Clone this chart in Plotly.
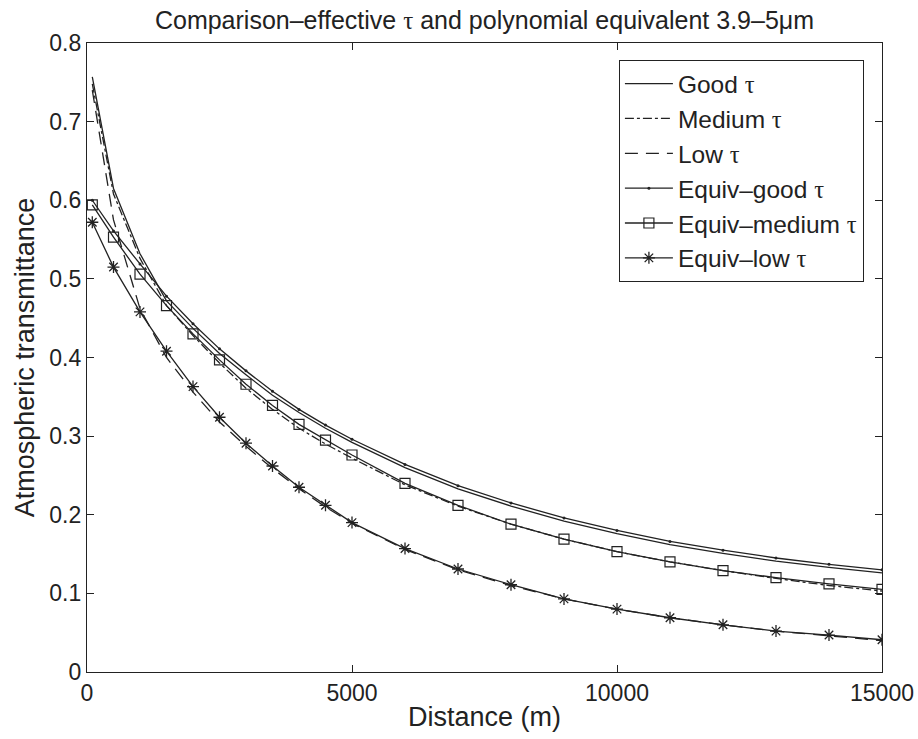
import plotly.graph_objects as go

distance = [100, 500, 1000, 1500, 2000, 2500, 3000, 3500, 4000, 4500, 5000,
            6000, 7000, 8000, 9000, 10000, 11000, 12000, 13000, 14000, 15000]

good_tau = [0.757, 0.615, 0.532, 0.472, 0.437, 0.405, 0.378, 0.352, 0.330, 0.310, 0.292,
            0.260, 0.233, 0.211, 0.192, 0.176, 0.162, 0.151, 0.141, 0.133, 0.126]
medium_tau = [0.748, 0.608, 0.526, 0.466, 0.428, 0.393, 0.361, 0.334, 0.310, 0.290, 0.272,
              0.238, 0.211, 0.188, 0.169, 0.153, 0.140, 0.129, 0.119, 0.110, 0.103]
low_tau = [0.740, 0.575, 0.462, 0.400, 0.356, 0.318, 0.287, 0.259, 0.233, 0.210, 0.189,
           0.156, 0.130, 0.110, 0.093, 0.080, 0.069, 0.060, 0.052, 0.046, 0.040]
equiv_good = [0.600, 0.561, 0.519, 0.478, 0.443, 0.411, 0.383, 0.357, 0.334, 0.314, 0.296,
              0.264, 0.237, 0.215, 0.196, 0.180, 0.166, 0.155, 0.145, 0.137, 0.130]
equiv_medium = [0.594, 0.553, 0.506, 0.466, 0.430, 0.397, 0.366, 0.339, 0.315, 0.295, 0.276,
                0.240, 0.212, 0.188, 0.169, 0.153, 0.140, 0.129, 0.120, 0.112, 0.105]
equiv_low = [0.572, 0.515, 0.458, 0.408, 0.363, 0.324, 0.291, 0.262, 0.235, 0.212, 0.190,
             0.157, 0.131, 0.111, 0.093, 0.080, 0.069, 0.060, 0.052, 0.047, 0.041]

x_ticks = [0, 5000, 10000, 15000]
y_ticks = [0, 0.1, 0.2, 0.3, 0.4, 0.5, 0.6, 0.7, 0.8]
y_tick_labels = ["0", "0.1", "0.2", "0.3", "0.4", "0.5", "0.6", "0.7", "0.8"]

TAU = "<span style=\"font-family:'Liberation Serif', serif\">τ</span>"
INK = "#222222"
FAM = "Liberation Sans, Arial, sans-serif"

series = [
    ("Good " + TAU, good_tau, dict(dash="solid"), None),
    ("Medium " + TAU, medium_tau, dict(dash="dashdot"), None),
    ("Low " + TAU, low_tau, dict(dash="13px,8px"), None),
    ("Equiv–good " + TAU, equiv_good, dict(dash="solid"),
     dict(symbol="circle", size=3, color=INK)),
    ("Equiv–medium " + TAU, equiv_medium, dict(dash="solid"),
     dict(symbol="square-open", size=10, color=INK, line=dict(width=1.2, color=INK))),
    ("Equiv–low " + TAU, equiv_low, dict(dash="solid"),
     dict(symbol="asterisk-open", size=10, color=INK, line=dict(width=1.3, color=INK))),
]

fig = go.Figure()
for i, (name, ys, ls, mk) in enumerate(series):
    fig.add_trace(go.Scatter(
        x=distance, y=ys, name=name,
        mode="lines+markers" if mk else "lines",
        line=dict(color=INK, width=1.3, **ls),
        marker=mk if mk else None,
        legendgroup="g%d" % i,
    ))

def f(size):
    return dict(family=FAM, size=size, color=INK)

fig.update_layout(
    width=918, height=739,
    margin=dict(l=87, r=36, t=43, b=67, autoexpand=False),
    paper_bgcolor="white", plot_bgcolor="white",
    font=f(22),
    title=dict(text="Comparison–effective " + TAU + " and polynomial equivalent 3.9–5μm",
               xref="paper", x=0.5, xanchor="center", y=0.972, yanchor="middle",
               font=f(25)),
    legend=dict(
        x=0.977, y=0.973, xanchor="right", yanchor="top",
        bordercolor=INK, borderwidth=1.2, bgcolor="white",
        font=f(24.5),
        tracegroupgap=0,
        itemwidth=48,
    ),
    showlegend=True,
)

fig.update_xaxes(
    range=[0, 15000], tickvals=x_ticks, ticktext=[str(v) for v in x_ticks],
    ticks="inside", ticklen=7, tickcolor=INK, showline=True, linecolor=INK,
    linewidth=1.2, mirror="ticks", showgrid=False, zeroline=False, automargin=False,
    title=dict(text="Distance (m)", standoff=2, font=f(27)), tickfont=f(23),
)
fig.update_yaxes(
    range=[0, 0.8], tickvals=y_ticks, ticktext=y_tick_labels,
    ticks="inside", ticklen=7, tickcolor=INK, showline=True, linecolor=INK,
    linewidth=1.2, mirror="ticks", showgrid=False, zeroline=False, automargin=False,
    title=dict(text="Atmospheric transmittance", standoff=6, font=f(27)), tickfont=f(23),
)

fig.write_html("out.html")
